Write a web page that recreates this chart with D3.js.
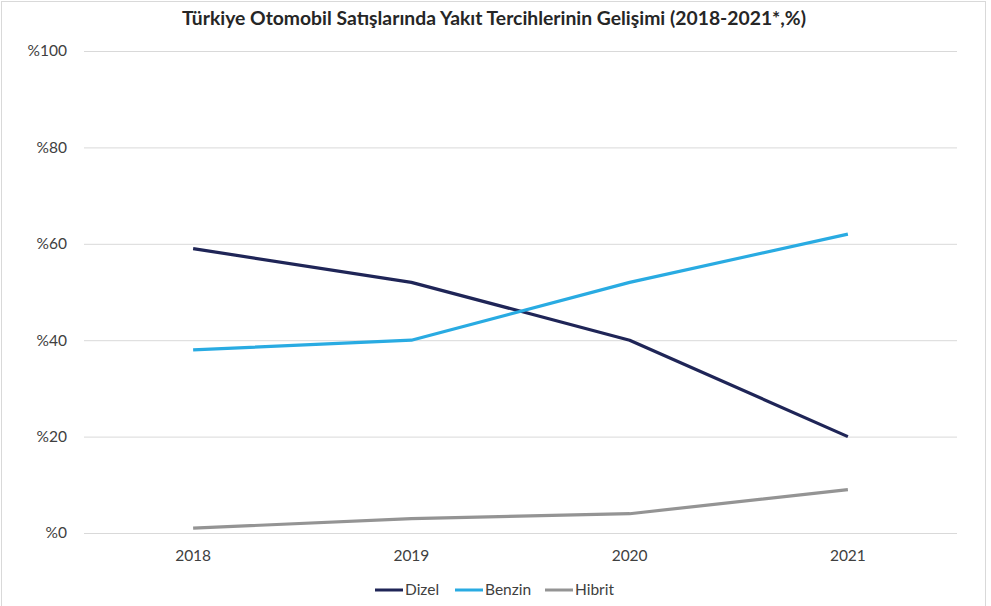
<!DOCTYPE html>
<html>
<head>
<meta charset="utf-8">
<script src="https://cdn.jsdelivr.net/npm/d3@7"></script>
<style>
  body { margin: 0; background: #fff; }
  text { font-family: Lato, "Open Sans", sans-serif; fill: #404040; }
</style>
</head>
<body>
<svg width="991" height="606"></svg>
<script>
const years = ["2018", "2019", "2020", "2021"];
const dizel = [59, 52, 40, 20];
const benzin = [38, 40, 52, 62];
const hibrit = [1, 3, 4, 9];
const yTicks = [0, 20, 40, 60, 80, 100];

const seriesNames = ["Dizel", "Benzin", "Hibrit"];
const seriesColors = ["#1f2557", "#29abe2", "#949494"];
const seriesValues = [dizel, benzin, hibrit];

const svg = d3.select("svg");
const width = +svg.attr("width");
const height = +svg.attr("height");

// chart border
svg.append("rect")
  .attr("x", 1.5).attr("y", 1.5)
  .attr("width", 984).attr("height", 640)
  .attr("fill", "none")
  .attr("stroke", "#d9d9d9");

const margin = {left: 84, right: 34, top: 51, bottom: 73};

const x = d3.scaleBand()
  .domain(years)
  .range([margin.left, width - margin.right]);

const y = d3.scaleLinear()
  .domain([0, 100])
  .range([height - margin.bottom, margin.top]);

svg.append("text")
  .attr("x", 494).attr("y", 25)
  .attr("text-anchor", "middle")
  .attr("font-weight", "bold")
  .attr("font-size", 18)
  .attr("textLength", 624)
  .attr("lengthAdjust", "spacingAndGlyphs")
  .style("fill", "#262626")
  .text("Türkiye Otomobil Satışlarında Yakıt Tercihlerinin Gelişimi (2018-2021*,%)");

// grid + y labels
const yAxis = svg.append("g")
  .attr("transform", `translate(${margin.left},0)`)
  .call(d3.axisLeft(y)
    .tickValues(yTicks)
    .tickSize(-(width - margin.left - margin.right))
    .tickPadding(17)
    .tickFormat(d => "%" + d));
yAxis.select(".domain").remove();
yAxis.selectAll("line").attr("stroke", "#d9d9d9").attr("stroke-width", 1);
yAxis.selectAll("text")
  .attr("font-size", 15.5)
  .style("font-family", "Lato, sans-serif")
  .style("fill", "#404040");

// x labels
const xAxis = svg.append("g")
  .attr("transform", `translate(0,${height - margin.bottom})`)
  .call(d3.axisBottom(x).tickSize(0).tickPadding(17));
xAxis.select(".domain").remove();
xAxis.selectAll("text")
  .attr("font-size", 15.5)
  .style("font-family", "Lato, sans-serif")
  .style("fill", "#404040");

const line = d3.line()
  .x((d, i) => x(years[i]) + x.bandwidth() / 2)
  .y(d => y(d));

seriesValues.forEach((vals, i) => {
  svg.append("path")
    .datum(vals)
    .attr("fill", "none")
    .attr("stroke", seriesColors[i])
    .attr("stroke-width", 3.2)
    .attr("stroke-linejoin", "round")
    .attr("d", line);
});

// legend
const legendX = [375, 455, 545];
const legend = svg.append("g").attr("transform", "translate(0,590)");
seriesNames.forEach((name, i) => {
  const g = legend.append("g").attr("transform", `translate(${legendX[i]},0)`);
  g.append("line")
    .attr("x1", 0).attr("x2", 28)
    .attr("stroke", seriesColors[i])
    .attr("stroke-width", 3);
  g.append("text")
    .attr("x", 30).attr("dy", "0.35em")
    .attr("font-size", 15.5)
    .text(name);
});
</script>
</body>
</html>
